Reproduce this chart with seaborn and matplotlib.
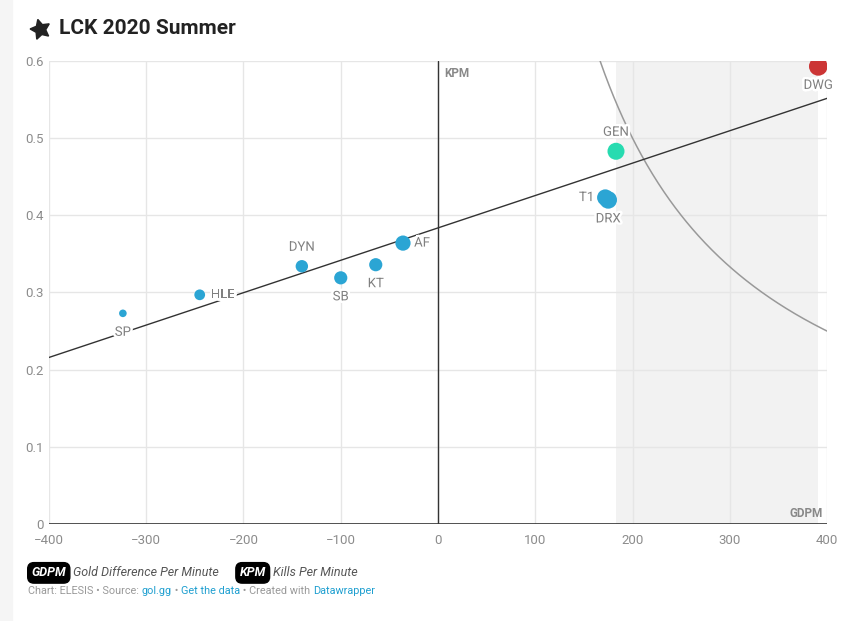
import matplotlib
matplotlib.use("Agg")
import matplotlib.pyplot as plt
import matplotlib.patheffects as pe
from matplotlib.lines import Line2D
import numpy as np
import pandas as pd
import seaborn as sns

# data
teams = ["SP", "HLE", "DYN", "SB", "KT", "AF", "GEN", "T1", "DRX", "DWG"]
gdpm = [-324, -245, -140, -100, -64, -36, 183, 172, 175, 391]
kpm = [0.273, 0.297, 0.334, 0.319, 0.336, 0.364, 0.483, 0.423, 0.420, 0.593]
wins = [1, 4, 6, 7, 7, 10, 13, 12, 14, 16]
team_colors = {"SP": "#2ba5d4", "HLE": "#2ba5d4", "DYN": "#2ba5d4", "SB": "#2ba5d4",
               "KT": "#2ba5d4", "AF": "#2ba5d4", "GEN": "#27dbb0", "T1": "#2ba5d4",
               "DRX": "#2ba5d4", "DWG": "#cc3535"}
label_pos = {"SP": "below", "HLE": "right", "DYN": "above", "SB": "below", "KT": "below",
             "AF": "right", "GEN": "above", "T1": "left", "DRX": "below", "DWG": "below"}
x_ticks = [-400, -300, -200, -100, 0, 100, 200, 300, 400]
y_ticks = [0, 0.1, 0.2, 0.3, 0.4, 0.5, 0.6]
highlight_range = (183, 391)
iso_product = 100  # GDPM * KPM reference curve

df = pd.DataFrame({"team": teams, "gdpm": gdpm, "kpm": kpm, "wins": wins})

sns.set_theme(style="white")
plt.rcParams["font.family"] = ["Roboto", "DejaVu Sans"]

fig = plt.figure(figsize=(8.5, 6.21), dpi=100)
fig.patch.set_facecolor("white")
ax = fig.add_axes([0.0576, 0.1562, 0.9154, 0.7456])
ax.set_xlim(-400, 400)
ax.set_ylim(0, 0.6)

# left gray page strip
fig.add_artist(plt.Rectangle((0, 0), 0.014, 1, transform=fig.transFigure,
                             color="#f5f5f5", zorder=0))

ax.axvspan(*highlight_range, color="#f2f2f2", lw=0, zorder=0)
for xv in x_ticks:
    ax.axvline(xv, color="#e6e6e6", lw=1, zorder=1)
for yv in y_ticks[1:]:
    ax.axhline(yv, color="#e6e6e6", lw=1, zorder=1)
ax.axvline(0, color="#333333", lw=1, zorder=2)
ax.axhline(0, color="#333333", lw=1.2, zorder=2)

# constant-product reference curve
iso_x = np.linspace(iso_product / 0.6, 400, 200)
ax.plot(iso_x, iso_product / iso_x, color="#999999", lw=1.1, zorder=2)

sns.regplot(data=df, x="gdpm", y="kpm", scatter=False, ci=None, truncate=False,
            line_kws={"color": "#333333", "lw": 1, "zorder": 2.2}, ax=ax)

sns.scatterplot(data=df, x="gdpm", y="kpm", hue="team", palette=team_colors,
                size="wins", sizes=(30, 180), linewidth=0, legend=False,
                zorder=4, ax=ax)

halo = [pe.withStroke(linewidth=3.5, foreground="white")]
offsets = {"below": (0, -9, "center", "top"), "above": (0, 9, "center", "bottom"),
           "right": (8, 0, "left", "center"), "left": (-8, 0, "right", "center")}
for t, x, y in zip(teams, gdpm, kpm):
    dx, dy, ha, va = offsets[label_pos[t]]
    ax.annotate(t, (x, y), xytext=(dx, dy), textcoords="offset points",
                ha=ha, va=va, fontsize=9.5, color="#808080",
                path_effects=halo, zorder=3.5)

ax.text(6, 0.592, "KPM", fontsize=8.5, fontweight="bold", color="#888888",
        ha="left", va="top", zorder=5)
ax.text(396, 0.005, "GDPM", fontsize=8.5, fontweight="bold", color="#888888",
        ha="right", va="bottom", zorder=5)

ax.set_xticks(x_ticks)
ax.set_xticklabels(["\u2212400", "\u2212300", "\u2212200", "\u2212100", "0",
                    "100", "200", "300", "400"])
ax.set_yticks(y_ticks)
ax.set_yticklabels(["0", "0.1", "0.2", "0.3", "0.4", "0.5", "0.6"])
ax.tick_params(axis="both", length=0, labelsize=9.5, labelcolor="#8c8c8c")
ax.tick_params(axis="x", pad=7)
ax.tick_params(axis="y", pad=4)
ax.set_xlabel("")
ax.set_ylabel("")
for s in ax.spines.values():
    s.set_visible(False)

# title with star icon
fig.add_artist(Line2D([0.047], [0.954], marker=(5, 1, 15), markersize=15,
                      color="#222222", transform=fig.transFigure))
fig.text(0.069, 0.954, "LCK 2020 Summer", fontsize=15, fontweight="bold",
         color="#222222", ha="left", va="center")

# footer key
k1 = fig.text(0.037, 0.0775, "GDPM", fontsize=9, style="italic", fontweight="bold",
              color="white", ha="left", va="center",
              bbox=dict(boxstyle="round,pad=0.3,rounding_size=0.5", fc="black", ec="black"))
k1t = ax.annotate("Gold Difference Per Minute", xy=(1, 0.5), xycoords=k1,
                  xytext=(5, 0), textcoords="offset points", fontsize=9,
                  style="italic", color="#555555", ha="left", va="center",
                  annotation_clip=False)
k2 = ax.annotate("KPM", xy=(1, 0.5), xycoords=k1t, xytext=(15, 0),
                 textcoords="offset points", fontsize=9, style="italic",
                 fontweight="bold", color="white", ha="left", va="center",
                 bbox=dict(boxstyle="round,pad=0.3,rounding_size=0.5", fc="black", ec="black"),
                 annotation_clip=False)
ax.annotate("Kills Per Minute", xy=(1, 0.5), xycoords=k2, xytext=(5, 0),
            textcoords="offset points", fontsize=9, style="italic",
            color="#555555", ha="left", va="center", annotation_clip=False)

# source line
parts = [("Chart: ELESIS \u2022 Source: ", "#999999"), ("gol.gg", "#1f9fd0"),
         (" \u2022 ", "#999999"), ("Get the data", "#1f9fd0"),
         (" \u2022 Created with ", "#999999"), ("Datawrapper", "#1f9fd0")]
prev = fig.text(0.033, 0.049, parts[0][0], fontsize=7.8, color=parts[0][1],
                ha="left", va="center")
for txt, col in parts[1:]:
    prev = ax.annotate(txt, xy=(1, 0.5), xycoords=prev, fontsize=7.8, color=col,
                       ha="left", va="center", annotation_clip=False)

fig.savefig("out.png", dpi=100)
